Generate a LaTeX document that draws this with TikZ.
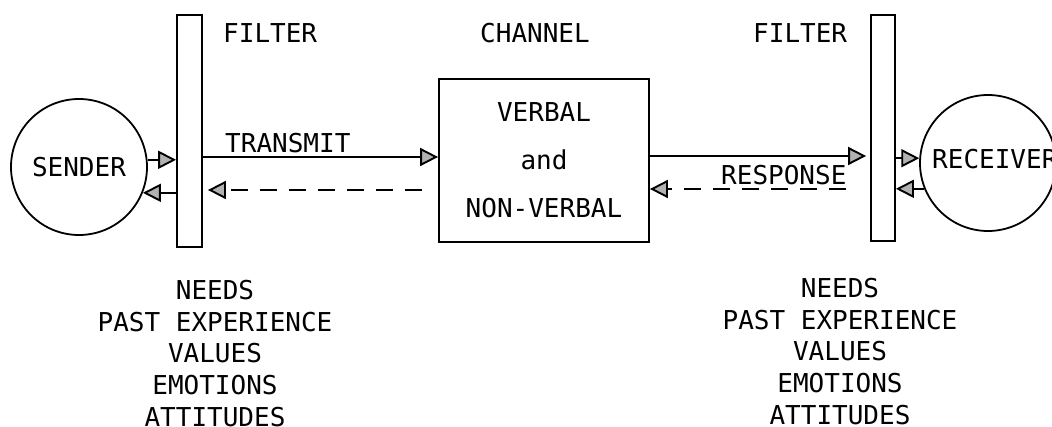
\documentclass[tikz,border=0pt]{standalone}
\usepackage{fontspec}
\setmonofont{DejaVu Sans Mono}
\usetikzlibrary{arrows.meta}
\begin{document}
\begin{tikzpicture}[x=1pt,y=-1pt,
  txt/.style={font=\fontsize{26}{31.75}\selectfont\ttfamily, inner sep=0pt},
  filterbar/.style={draw, line width=1.8pt, inner sep=0pt, minimum width=25pt},
  person/.style={draw, circle, line width=1.8pt, inner sep=0pt, minimum size=136pt},
  arr/.style={line width=1.9pt, -{Triangle[length=18pt,width=18pt,fill=gray!60]}},
  darr/.style={arr, dash pattern=on 17pt off 12pt}
]
\useasboundingbox (0,0) rectangle (1052,427);

% filters
\node[filterbar, minimum height=232pt] (lfilter) at (189.5,131) {};
\node[filterbar, minimum height=226pt, minimum width=24pt] (rfilter) at (883,128) {};

% sender and receiver
\node[person, txt] (sender) at (79,167) {SENDER};
\node[person] (receiver) at (988,163) {};
\node[txt, anchor=base west] (recvlabel) at (932,169) {RECEIVER};

% channel
\node[draw, line width=1.8pt, minimum width=210pt, minimum height=163pt, inner sep=0pt,
      txt, align=center, font=\fontsize{26}{48}\selectfont\ttfamily] (channel) at (544,160.5)
      {VERBAL\\and\\NON-VERBAL};

% headings
\node[txt, anchor=base west] (lfiltertitle) at (223,43) {FILTER};
\node[txt, anchor=base] (channeltitle) at (535,43) {CHANNEL};
\node[txt, anchor=base west] (rfiltertitle) at (753,43) {FILTER};

% arrow labels
\node[txt, anchor=base west] (transmit) at (225,153) {TRANSMIT};
\node[txt, anchor=base west] (response) at (721,185) {RESPONSE};

% connectors
\draw[arr] (sender.6) -- (sender.6 -| lfilter.west);
\draw[arr] (sender.-22 -| lfilter.west) -- (sender.-22);
\draw[arr] (lfilter.east |- 0,157) -- (channel.west |- 0,157);
\draw[darr] ([xshift=-16pt]channel.west |- 0,190) -- ([xshift=5pt]lfilter.east |- 0,190);
\draw[arr, shorten >=4pt] (channel.east |- 0,156) -- (rfilter.west |- 0,156);
\draw[darr] ([xshift=-24pt]rfilter.west |- 0,189) -- (channel.east |- 0,189);
\draw[arr] (rfilter.east |- receiver.176) -- (receiver.176);
\draw[arr] (receiver.202) -- (receiver.202 -| rfilter.east);

% factor lists
\node[txt, align=center, anchor=north] (lfactors) at (215,280)
  {NEEDS\\PAST EXPERIENCE\\VALUES\\EMOTIONS\\ATTITUDES};
\node[txt, align=center, anchor=north] (rfactors) at (840,278)
  {NEEDS\\PAST EXPERIENCE\\VALUES\\EMOTIONS\\ATTITUDES};
\end{tikzpicture}
\end{document}
